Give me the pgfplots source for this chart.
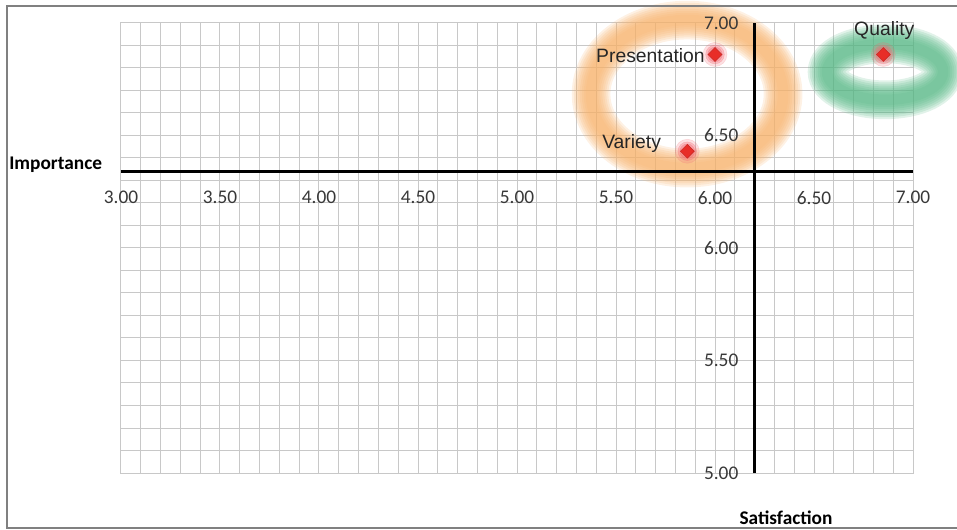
\documentclass[border=0pt]{standalone}
\usepackage{fontspec}
\setmainfont{Carlito}
\newfontfamily\arialfont{Liberation Sans}
\usepackage{pgfplots}
\pgfplotsset{compat=1.18}

\definecolor{gridgray}{RGB}{200,200,200}
\definecolor{ringorange}{RGB}{247,178,108}
\definecolor{ringgreen}{RGB}{88,184,134}
\definecolor{markred}{RGB}{232,45,40}
\definecolor{glowpink}{RGB}{242,105,115}
\definecolor{framegray}{RGB}{128,128,128}

\pgfplotsset{
  quadrant frame/.style={
    at={(90.75pt,42pt)}, anchor=south west,
    scale only axis, width=594pt, height=337.5pt,
    xmin=3, xmax=7, ymin=5, ymax=7,
    xtick={3,3.5,4,4.5,5,5.5,6,6.5,7},
    ytick={5,5.5,6,6.5,7},
    major tick length=0pt, minor tick length=0pt,
    clip=false,
  },
}

\begin{document}
\begin{tikzpicture}
\useasboundingbox (0,0) rectangle (717.75pt,396.75pt);
% grid, highlight rings, quadrant axes and points
\begin{axis}[
  quadrant frame,
  minor x tick num=4, minor y tick num=4,
  grid=both,
  major grid style={gridgray, line width=0.75pt},
  minor grid style={gridgray, line width=0.75pt},
  axis line style={gridgray, line width=0.75pt},
  xticklabels={}, yticklabels={},
  xlabel={Satisfaction},
  ylabel={Importance},
  every axis x label/.style={at={(axis description cs:0.7807,-0.1)}, anchor=west,
    font=\bfseries\fontsize{14.5}{17}\selectfont, inner sep=0pt},
  every axis y label/.style={at={(axis description cs:-0.1414,0.6844)}, anchor=west,
    font=\bfseries\fontsize{14.5}{17}\selectfont, inner sep=0pt},
]
% soft highlight rings
\pgfplotsinvokeforeach{8pt,11pt,14pt,17pt,20pt,23pt,26pt,29pt}{
  \draw[ringorange, line width=#1, opacity=0.18]
    (axis cs:5.859,6.684) ellipse [x radius=72pt, y radius=55.5pt];
  \draw[ringgreen, line width=#1, opacity=0.18]
    (axis cs:6.859,6.783) ellipse [x radius=43.5pt, y radius=21pt];
}

% quadrant axes
\draw[black, line width=2.1pt] (axis cs:3,6.34) -- (axis cs:7,6.34);
\draw[black, line width=2.1pt] (axis cs:6.2,5) -- (axis cs:6.2,7);

% glow behind the points
\addplot[only marks, mark=*, mark size=9pt, color=glowpink, opacity=0.2]
  coordinates {(6.00,6.86) (6.85,6.86) (5.86,6.43)};
\addplot[only marks, mark=*, mark size=7pt, color=glowpink, opacity=0.3]
  coordinates {(6.00,6.86) (6.85,6.86) (5.86,6.43)};
\addplot[only marks, mark=*, mark size=5.5pt, color=glowpink, opacity=0.35]
  coordinates {(6.00,6.86) (6.85,6.86) (5.86,6.43)};
% data points
\addplot[only marks, mark=square*, mark size=3.7pt, color=markred,
  mark options={rotate=45, fill=markred, draw=markred!85!black, line width=0.3pt}]
  coordinates {(6.00,6.86) (6.85,6.86) (5.86,6.43)};

\node[anchor=base east, xshift=-7.5pt, yshift=-6.2pt, inner sep=0pt,
  font=\arialfont\fontsize{14.5}{17}\selectfont, text=black!85]
  at (axis cs:6.00,6.86) {Presentation};
\node[anchor=base, xshift=0.75pt, yshift=14.25pt, inner sep=0pt,
  font=\arialfont\fontsize{14.5}{17}\selectfont, text=black!85]
  at (axis cs:6.85,6.86) {Quality};
\node[anchor=base east, xshift=-19.5pt, yshift=1.8pt, inner sep=0pt,
  font=\arialfont\fontsize{14.5}{17}\selectfont, text=black!85]
  at (axis cs:5.86,6.43) {Variety};
\end{axis}
% tick labels along the quadrant axes, set on top of the rings
\begin{axis}[
  quadrant frame,
  axis line style={draw=none},
  ticklabel style={font=\fontsize{14.5}{17}\selectfont, text=black!78, inner sep=0pt},
  xticklabel style={anchor=center, yshift=206.4pt},
  yticklabel style={anchor=east, xshift=463.2pt},
  /pgf/number format/.cd, fixed, fixed zerofill, precision=2, assume math mode=true,
]
\end{axis}
% outer frame
\draw[framegray, line width=1.5pt] (720pt,391.9pt) -- (5.6pt,391.9pt) -- (5.6pt,1.1pt) -- (720pt,1.1pt);
\end{tikzpicture}
\end{document}
